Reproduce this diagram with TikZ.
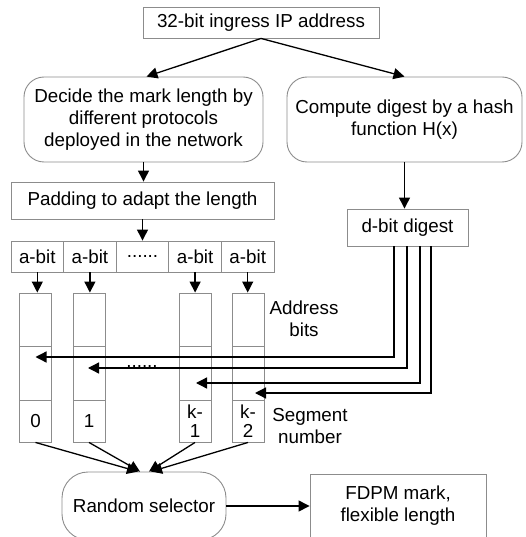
\documentclass[tikz,border=0pt]{standalone}
\usepackage{fontspec}
\setmainfont{Liberation Sans}
\usetikzlibrary{arrows.meta,calc}
\definecolor{boxgray}{RGB}{140,140,140}
\tikzset{
  bx/.style={draw=boxgray, line width=0.9pt, inner sep=0pt, align=center},
  rbx/.style={bx, rounded corners=20pt},
  cell/.style={bx, minimum width=52.6pt, minimum height=31pt},
  colbox/.style={bx, minimum width=32pt},
  arr/.style={draw=black, line width=1.3pt, -{Triangle[length=11pt,width=11pt]}},
  dline/.style={arr},
  plain/.style={inner sep=0pt, align=center}
}
\begin{document}
\begin{tikzpicture}[x=1pt,y=-1pt, font=\fontsize{18.8}{22}\selectfont]
\clip (0,0) rectangle (525,537);
% top
\node[bx, minimum width=236pt, minimum height=31pt] (ip) at (261,22.5) {32-bit ingress IP address};
\node[rbx, minimum width=239pt, minimum height=85pt] (dec) at (143.5,119.5) {Decide the mark length by\\different protocols\\deployed in the network};
\node[rbx, minimum width=235pt, minimum height=85pt] (hash) at (404.5,119.5) {Compute digest by a hash\\function H(x)};
\node[bx, minimum width=263pt, minimum height=37pt] (pad) at (142.5,200.5) {Padding to adapt the length};
\node[bx, minimum width=121pt, minimum height=37pt] (dig) at (407.5,227.5) {d-bit digest};
% a-bit row
\node[cell] (a1) at (37.3,256.5) {a-bit};
\node[cell] (a2) at (89.9,256.5) {a-bit};
\node[cell] (a3) at (142.5,256.5) {......};
\node[cell] (a4) at (195.1,256.5) {a-bit};
\node[cell] (a5) at (247.7,256.5) {a-bit};
% columns
\foreach \n/\x in {c0/35.5, c1/89, ck1/195, ck2/248}{
  \node[colbox, minimum height=53pt] (\n t) at (\x,319.5) {};
  \node[colbox, minimum height=54pt] (\n m) at (\x,373) {};
}
\node[colbox, minimum height=42pt] (c0b) at (35.5,421) {0};
\node[colbox, minimum height=42pt] (c1b) at (89,421) {1};
\node[colbox, minimum height=42pt, font=\fontsize{18.8}{19}\selectfont] (ck1b) at (195,421) {k-\\1};
\node[colbox, minimum height=42pt, font=\fontsize{18.8}{19}\selectfont] (ck2b) at (248,421) {k-\\2};
\node[plain] (dots) at (142,366) {......};
\node[plain] (ab) at (304,319) {Address\\bits};
\node[plain] (sn) at (310,426) {Segment\\number};
% bottom
\node[bx, rounded corners=26pt, minimum width=164pt, minimum height=68pt] (rs) at (144,506) {Random selector};
\node[bx, minimum width=176pt, minimum height=64pt] (fdpm) at (398,506) {FDPM mark,\\flexible length};
% arrows
\draw[arr] (ip.south) -- ($(dec.north)+(3,0)$);
\draw[arr] (ip.south) -- (hash.north);
\draw[arr] (dec.south) -- (dec.south |- pad.north);
\draw[arr] (pad.south) -- (a3.north);
\draw[arr] (hash.south) -- (hash.south |- dig.north);
\draw[arr] (a1.south) -- (a1.south |- c0t.north);
\draw[arr] (a2.south) -- (a2.south |- c1t.north);
\draw[arr] (a4.south) -- (a4.south |- ck1t.north);
\draw[arr] (a5.south) -- (a5.south |- ck2t.north);
% digest lines
\draw[dline] ([xshift=-13.5pt]dig.south) |- ($(c0m.center)+(0,-16)$);
\draw[dline] ([xshift=-0.5pt]dig.south) |- ($(c1m.center)+(-1,-5)$);
\draw[dline] ([xshift=12.5pt]dig.south) |- ($(ck1m.center)+(1,10)$);
\draw[dline] ([xshift=23.5pt]dig.south) |- ($(ck2m.center)+(7,20)$);
% to random selector
\draw[arr] (c0b.south) -- ($(rs.north)+(-6,0)$);
\draw[arr] (c1b.south) -- ($(rs.north)+(-4,0)$);
\draw[arr] (ck1b.south) -- ($(rs.north)+(5,0)$);
\draw[arr] (ck2b.south) -- ($(rs.north)+(7,0)$);
\draw[arr] (rs.east) -- (rs.east -| fdpm.west);
\end{tikzpicture}
\end{document}
